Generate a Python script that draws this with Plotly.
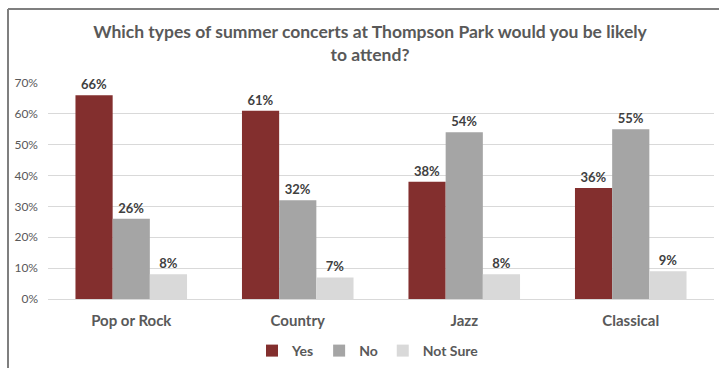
import plotly.graph_objects as go

categories = ["Pop or Rock", "Country", "Jazz", "Classical"]
yes_vals = [66, 61, 38, 36]
no_vals = [26, 32, 54, 55]
notsure_vals = [8, 7, 8, 9]
series_names = ["Yes", "No", "Not Sure"]
colors = ["#832F2E", "#A5A5A5", "#D9D9D9"]
tick_vals = [0, 10, 20, 30, 40, 50, 60, 70]
tick_text = ["0%", "10%", "20%", "30%", "40%", "50%", "60%", "70%"]

FONT = "Lato"
W, H = 719, 368
L, R, T, B = 48, 5, 83, 69

fig = go.Figure()
for name, vals, col in zip(series_names, [yes_vals, no_vals, notsure_vals], colors):
    fig.add_trace(go.Bar(
        x=categories, y=vals, name=name, marker=dict(color=col, line=dict(width=0)),
        text=[f"{v}%" for v in vals], textposition="outside", cliponaxis=False,
        textfont=dict(family=FONT, size=13, color="#404040", weight="bold"),
    ))

pw = W - L - R
ph = H - T - B
def px(x):
    return (x - L) / pw
def py(y):
    return (H - B - y) / ph

fig.update_layout(
    width=W, height=H,
    margin=dict(l=L, r=R, t=T, b=B, pad=0),
    paper_bgcolor="white", plot_bgcolor="white",
    barmode="group", bargap=0.33, bargroupgap=0,
    font=dict(family=FONT, color="#595959"),
    title=dict(
        text="Which types of summer concerts at Thompson Park would you be likely<br>to attend?",
        x=370 / W, xref="container", xanchor="center",
        y=1 - 38 / H, yref="container", yanchor="middle",
        font=dict(family=FONT, size=17.5, color="#595959", weight="bold"),
    ),
    xaxis=dict(
        showgrid=False, showline=True, linecolor="#D9D9D9", linewidth=1,
        ticks="", ticklabelstandoff=8, automargin=False,
        tickfont=dict(family=FONT, size=15, color="#595959", weight="bold"),
        range=[-0.5, 3.5],
    ),
    yaxis=dict(
        range=[0, 70], tickvals=tick_vals, ticktext=tick_text,
        showgrid=True, gridcolor="#D9D9D9", gridwidth=1, zeroline=False,
        showline=False, ticks="", ticklabelstandoff=9, automargin=False,
        tickfont=dict(family=FONT, size=12, color="#595959"),
    ),
    legend=dict(
        orientation="h", x=368 / W, xref="container", xanchor="center",
        y=17 / H, yref="container", yanchor="middle",
        font=dict(family=FONT, size=14, color="#595959", weight="bold"),
        itemwidth=30, traceorder="normal",
    ),
    shapes=[
        dict(type="line", xref="paper", yref="paper", x0=px(8), x1=px(719), y0=py(9), y1=py(9),
             line=dict(color="#7F7F7F", width=2)),
        dict(type="line", xref="paper", yref="paper", x0=px(8), x1=px(8), y0=py(9), y1=py(368),
             line=dict(color="#7F7F7F", width=2)),
    ],
)

fig.write_html("out.html")
